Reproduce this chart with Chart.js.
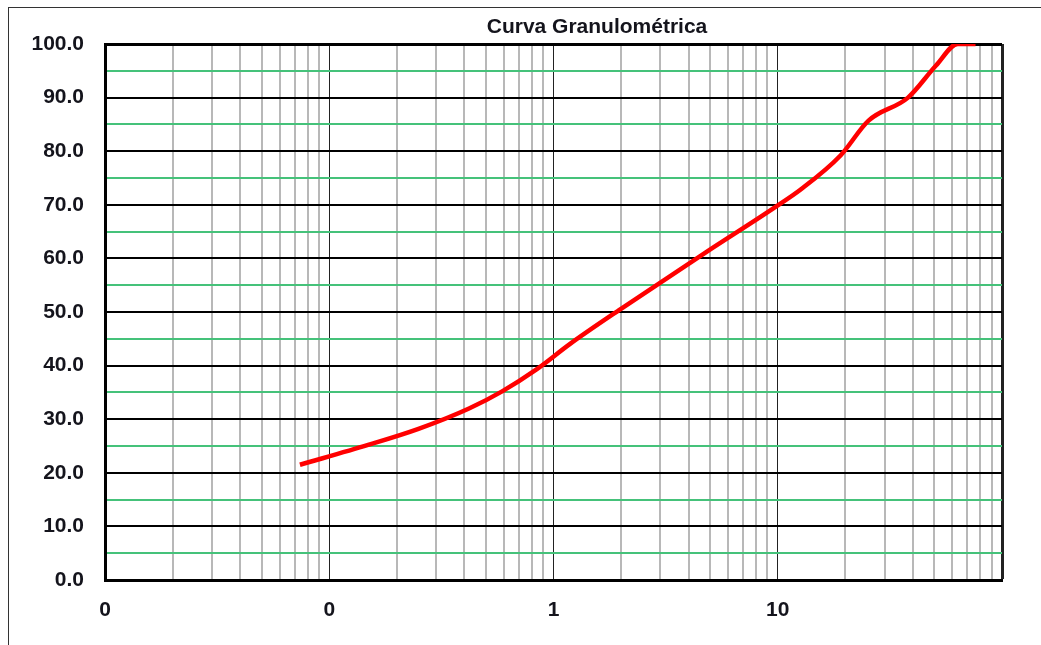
<!DOCTYPE html>
<html lang="pt">
<head>
<meta charset="UTF-8" />
<title>Curva Granulométrica</title>
<script src="https://cdn.jsdelivr.net/npm/chart.js"></script>
<style>
  html, body { margin: 0; padding: 0; background: #fff; overflow: hidden; }
  #wrap { position: relative; width: 1041px; height: 645px; }
  #frame { position: absolute; left: 8px; top: 7px; width: 1100px; height: 700px; border: 1px solid #333; box-sizing: border-box; }
  #chart { position: absolute; left: 0; top: 0; }
</style>
</head>
<body>
<div id="wrap">
  <div id="frame"></div>
  <canvas id="chart" width="1041" height="645"></canvas>
</div>

<script>
  // abertura das peneiras (mm) e % passante
  const sieveSizes = [0.074, 0.149, 0.25, 0.42, 0.59, 0.84, 1.19, 2.0, 4.76, 9.52, 12.7, 19.05, 25.4, 38.1, 50.8, 63.5, 76.2];
  const passing    = [21.5, 25.2, 28.2, 32.0, 35.2, 39.3, 44.1, 50.6, 61.1, 69.3, 72.9, 79.2, 85.7, 90.0, 96.0, 100.0, 100.0];

  const xTicks = [];
  [0.01, 0.1, 1, 10].forEach(d => {
    for (let i = 1; i <= 9; i++) xTicks.push(+(d * i).toPrecision(3));
  });
  xTicks.push(100);

  const yMin = 0, yMax = 100, yStep = 5;

  const FONT = '"Liberation Sans", Arial, sans-serif';
  const TEXT = '#14141c';

  function isDecade(v) {
    const l = Math.log10(v);
    return Math.abs(l - Math.round(l)) < 1e-9;
  }

  const titlePlugin = {
    id: 'titulo',
    afterDraw(chart) {
      const c = chart.ctx;
      c.save();
      c.font = 'bold 21px ' + FONT;
      c.fillStyle = TEXT;
      c.textAlign = 'center';
      c.textBaseline = 'middle';
      c.fillText('Curva Granulométrica', 597, 27);
      c.restore();
    }
  };

  const ctx = document.getElementById('chart').getContext('2d');
  new Chart(ctx, {
    type: 'line',
    data: {
      datasets: [{
        data: sieveSizes.map((s, i) => ({ x: s, y: passing[i] })),
        borderColor: '#ff0000',
        borderWidth: 4.5,
        pointRadius: 0,
        cubicInterpolationMode: 'monotone',
        fill: false
      }]
    },
    options: {
      responsive: false,
      animation: false,
      layout: { padding: { top: 44, right: 39, left: 0, bottom: 0 } },
      plugins: {
        legend: { display: false },
        tooltip: { enabled: false }
      },
      scales: {
        x: {
          type: 'logarithmic',
          min: 0.01,
          max: 100,
          afterBuildTicks: s => { s.ticks = xTicks.map(v => ({ value: v })); },
          afterFit: s => { s.height = 65; },
          border: { display: true, color: '#000', width: 3 },
          grid: {
            drawTicks: false,
            color: c => (isDecade(c.tick.value) ? '#222' : '#b8b8b8'),
            lineWidth: c => (c.tick.value === 100 ? 3 : isDecade(c.tick.value) ? 1 : 2)
          },
          ticks: {
            autoSkip: false,
            maxRotation: 0,
            padding: 18,
            color: TEXT,
            font: { family: FONT, size: 21, weight: 'bold' },
            callback: v => (isDecade(v) && v < 100 ? Math.round(v).toString() : '')
          }
        },
        y: {
          min: yMin,
          max: yMax,
          afterFit: s => { s.width = 105; },
          border: { display: true, color: '#000', width: 3 },
          grid: {
            drawTicks: false,
            color: c => (c.tick.value % 10 === 0 ? '#000' : '#45c27a'),
            lineWidth: c => (c.tick.value === 100 ? 3 : 2)
          },
          ticks: {
            stepSize: yStep,
            autoSkip: false,
            padding: 21,
            color: TEXT,
            font: { family: FONT, size: 21, weight: 'bold' },
            callback: v => (v % 10 === 0 ? v.toFixed(1) : '')
          }
        }
      }
    },
    plugins: [titlePlugin]
  });
</script>
</body>
</html>
